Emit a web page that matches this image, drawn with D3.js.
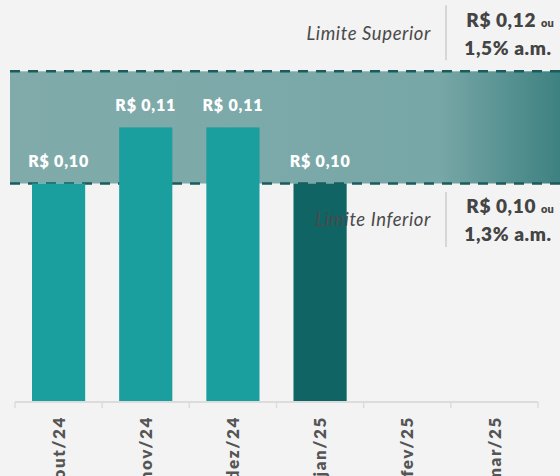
<!DOCTYPE html>
<html>
<head>
<meta charset="utf-8">
<script src="https://cdn.jsdelivr.net/npm/d3@7"></script>
<style>
  body { margin: 0; background: #f3f3f3; }
  svg { display: block; font-family: Lato, "Open Sans", sans-serif; }
</style>
</head>
<body>
<div id="chart"></div>
<script>
// data
const months = ["out/24", "nov/24", "dez/24", "jan/25", "fev/25", "mar/25"];
const prices = [0.10, 0.11, 0.11, 0.10, null, null];
const priceLabels = ["R$ 0,10", "R$ 0,11", "R$ 0,11", "R$ 0,10", "", ""];
const currentMonth = "jan/25";

const limitNames = ["Limite Superior", "Limite Inferior"];
const limitValues = [0.12, 0.10];
const limitPrices = ["R$ 0,12", "R$ 0,10"];
const limitRates = ["1,5% a.m.", "1,3% a.m."];

const width = 560, height = 476;
const baseline = 402;

const svg = d3.select("#chart")
    .append("svg")
    .attr("width", width)
    .attr("height", height);

const x = d3.scaleBand()
    .domain(months)
    .range([15, 538])
    .paddingInner(0.39)
    .paddingOuter(0.195);

// axis does not start at zero in the original
const y = d3.scaleLinear()
    .domain([0.06105, 0.12])
    .range([baseline, 71.3]);

const defs = svg.append("defs");
const grad = defs.append("linearGradient").attr("id", "bandGrad");
grad.append("stop").attr("offset", "0%").attr("stop-color", "#81abab");
grad.append("stop").attr("offset", "78%").attr("stop-color", "#78a7a7");
grad.append("stop").attr("offset", "100%").attr("stop-color", "#3e8181");

// limit band
svg.append("rect")
    .attr("x", 10)
    .attr("y", y(limitValues[0]))
    .attr("width", width - 10)
    .attr("height", y(limitValues[1]) - y(limitValues[0]))
    .attr("fill", "url(#bandGrad)");

svg.selectAll(".limit-line")
    .data(limitValues)
    .join("line")
    .attr("class", "limit-line")
    .attr("x1", 10)
    .attr("x2", width)
    .attr("y1", d => y(d))
    .attr("y2", d => y(d))
    .attr("stroke", "#1a5c5c")
    .attr("stroke-width", 2.6)
    .attr("stroke-dasharray", "10,8");

// bars
const data = months.map((m, i) => ({ month: m, value: prices[i], label: priceLabels[i] }))
    .filter(d => d.value != null);

svg.append("g")
    .selectAll("rect")
    .data(data)
    .join("rect")
    .attr("x", d => x(d.month))
    .attr("y", d => y(d.value))
    .attr("width", x.bandwidth())
    .attr("height", d => baseline - y(d.value))
    .attr("fill", d => d.month == currentMonth ? "#106464" : "#1b9e9e");

svg.append("g")
    .selectAll("text")
    .data(data)
    .join("text")
    .attr("x", d => x(d.month) + x.bandwidth() / 2)
    .attr("y", d => y(d.value) - 16)
    .attr("text-anchor", "middle")
    .attr("fill", "#ffffff")
    .style("font-weight", 800)
    .style("font-size", "16px")
    .style("letter-spacing", "0.8px")
    .text(d => d.label);

// x axis
const axis = svg.append("g");
axis.append("line")
    .attr("x1", x.range()[0])
    .attr("x2", x.range()[1])
    .attr("y1", baseline)
    .attr("y2", baseline)
    .attr("stroke", "#dcdcdc")
    .attr("stroke-width", 2);

const boundaries = months.map(m => x(m) - x.step() * x.paddingInner() / 2);
boundaries.push(x.range()[1]);
axis.selectAll(".tick-mark")
    .data(boundaries)
    .join("line")
    .attr("class", "tick-mark")
    .attr("x1", d => d)
    .attr("x2", d => d)
    .attr("y1", baseline)
    .attr("y2", baseline + 6)
    .attr("stroke", "#dcdcdc")
    .attr("stroke-width", 1.5);

axis.selectAll(".tick-label")
    .data(months)
    .join("text")
    .attr("class", "tick-label")
    .attr("transform", d => `translate(${x(d) + x.bandwidth() / 2},416) rotate(-90)`)
    .attr("dy", "0.36em")
    .attr("text-anchor", "end")
    .attr("fill", "#555")
    .style("font-weight", 800)
    .style("font-size", "17px")
    .style("letter-spacing", "1.6px")
    .text(d => d);

// limit annotations
const anchors = [y(limitValues[0]) - 38.5, y(limitValues[1]) + 36];
limitNames.forEach((name, i) => {
    const g = svg.append("g").attr("transform", `translate(0,${anchors[i]})`);
    g.append("line")
        .attr("x1", 446).attr("x2", 446)
        .attr("y1", -27.5).attr("y2", 27.5)
        .attr("stroke", "#cccccc")
        .attr("stroke-width", 1.5);
    g.append("text")
        .attr("x", 431)
        .attr("y", 7)
        .attr("text-anchor", "end")
        .attr("fill", "#4a4a4a")
        .style("font-style", "italic")
        .style("font-weight", 400)
        .style("font-size", "18.5px")
        .style("letter-spacing", "0.6px")
        .text(name);
    const t = g.append("text")
        .attr("x", 510)
        .attr("y", -6)
        .attr("text-anchor", "middle")
        .attr("fill", "#444")
        .style("font-weight", 800)
        .style("font-size", "19px")
        .style("letter-spacing", "0.6px");
    t.append("tspan").text(limitPrices[i] + " ");
    t.append("tspan").style("font-size", "11px").style("letter-spacing", "0px").text("ou");
    g.append("text")
        .attr("x", 508)
        .attr("y", 22)
        .attr("text-anchor", "middle")
        .attr("fill", "#444")
        .style("font-weight", 800)
        .style("font-size", "19px")
        .style("letter-spacing", "0.6px")
        .text(limitRates[i]);
});
</script>
</body>
</html>
